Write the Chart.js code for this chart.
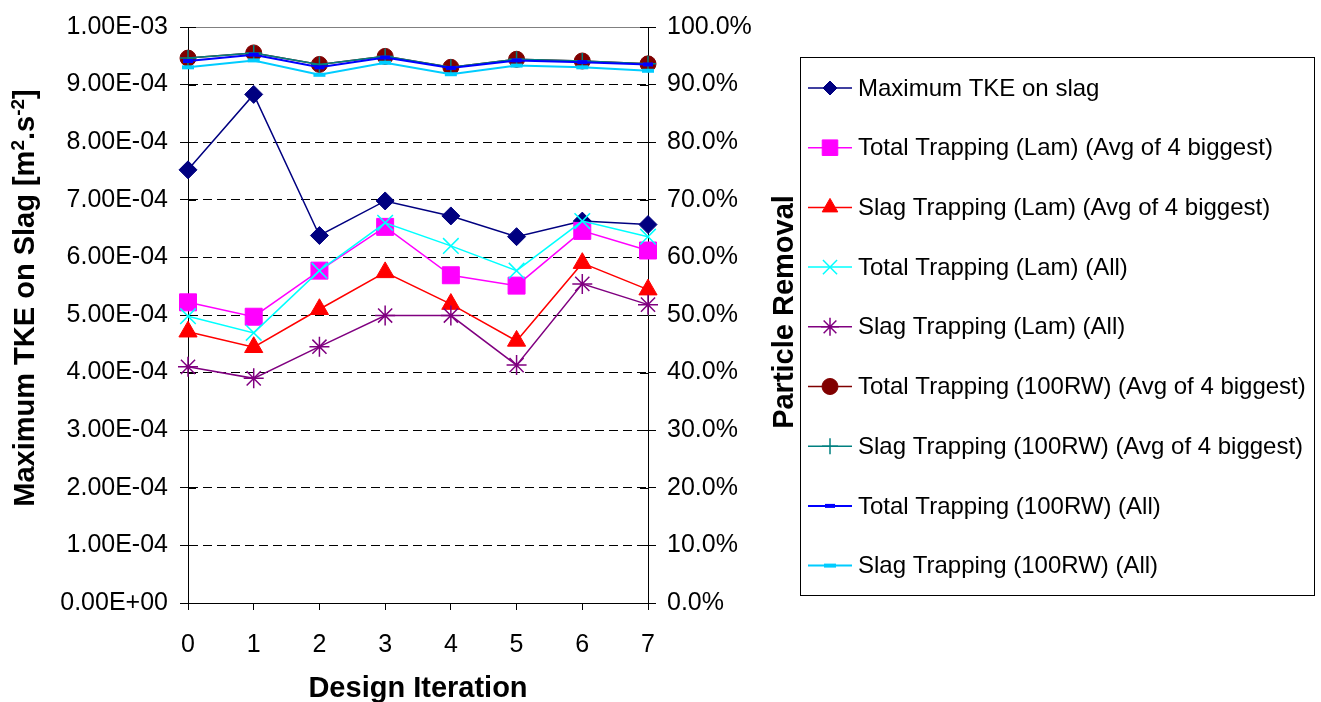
<!DOCTYPE html>
<html>
<head>
<meta charset="utf-8">
<script src="https://cdn.jsdelivr.net/npm/chart.js@4.4.1/dist/chart.umd.min.js"></script>
<style>
  html, body { margin: 0; padding: 0; background: #fff; }
  #wrap { width: 1321px; height: 702px; position: relative; }
</style>
</head>
<body>
<div id="wrap"><canvas id="trapping_chart"></canvas></div>
<script>
const iterations = ['0', '1', '2', '3', '4', '5', '6', '7'];

// left axis, m2.s-2
const maxTkeOnSlag = [7.52e-4, 8.83e-4, 6.38e-4, 6.98e-4, 6.72e-4, 6.36e-4, 6.63e-4, 6.57e-4];

// right axis, percent
const totalLamAvg4 = [52.2, 49.7, 57.7, 65.3, 56.9, 55.1, 64.6, 61.2];
const slagLamAvg4 = [47.1, 44.4, 51.0, 57.4, 51.9, 45.5, 59.0, 54.4];
const totalLamAll = [49.8, 46.9, 57.7, 66.0, 62.0, 57.7, 66.3, 63.6];
const slagLamAll = [41.0, 39.0, 44.5, 49.9, 49.9, 41.3, 55.4, 51.8];
const total100Avg4 = [94.6, 95.5, 93.5, 94.9, 93.0, 94.4, 94.1, 93.6];
const slag100Avg4 = [94.6, 95.5, 93.5, 94.9, 93.0, 94.4, 94.1, 93.6];
const total100All = [94.1, 95.2, 93.0, 94.7, 92.9, 94.2, 93.9, 93.5];
const slag100All = [93.0, 94.2, 91.7, 93.8, 91.8, 93.3, 93.0, 92.4];

const FONT = '"Liberation Sans", Arial, sans-serif';

function series(label, data, axis, color, style, radius, legendRadius, extra) {
    return Object.assign({
        label: label,
        data: data,
        yAxisID: axis,
        borderColor: color,
        backgroundColor: color,
        pointBackgroundColor: color,
        pointBorderColor: color,
        pointStyle: style,
        pointRadius: radius,
        pointHoverRadius: radius,
        pointBorderWidth: 1,
        borderWidth: 1.5,
        legendRadius: legendRadius,
        tension: 0,
        fill: false
    }, extra || {});
}

const datasets = [
    series('Maximum TKE on slag', maxTkeOnSlag, 'y', '#000080', 'rectRot', 9, 7),
    series('Total Trapping (Lam) (Avg of 4 biggest)', totalLamAvg4, 'y1', '#FF00FF', 'rect', 12, 11),
    series('Slag Trapping (Lam) (Avg of 4 biggest)', slagLamAvg4, 'y1', '#FF0000', 'triangle', 10.5, 9),
    series('Total Trapping (Lam) (All)', totalLamAll, 'y1', '#00FFFF', 'crossRot', 11, 10, {pointBorderWidth: 1.5}),
    series('Slag Trapping (Lam) (All)', slagLamAll, 'y1', '#800080', 'star', 10, 9, {pointBorderWidth: 1.5}),
    series('Total Trapping (100RW) (Avg of 4 biggest)', total100Avg4, 'y1', '#800000', 'circle', 8, 8),
    series('Slag Trapping (100RW) (Avg of 4 biggest)', slag100Avg4, 'y1', '#008080', 'cross', 8, 8, {pointBorderWidth: 1.5}),
    series('Total Trapping (100RW) (All)', total100All, 'y1', '#0000FF', 'line', 5, 5, {pointBorderWidth: 4, borderWidth: 2}),
    series('Slag Trapping (100RW) (All)', slag100All, 'y1', '#00CCFF', 'line', 6, 6, {pointBorderWidth: 4, borderWidth: 2})
];
// later series on top, like the original
datasets.forEach((d, i) => { d.order = 20 - i; });

function sciLabel(v) {
    const parts = Number(v).toExponential(2).split('e');
    const sign = parts[1][0] === '-' ? '-' : '+';
    const digits = parts[1].replace(/^[+-]/, '').padStart(2, '0');
    return parts[0] + 'E' + sign + digits;
}

// gray top border, inner half of the tick marks, legend box and the two y titles
const excelLook = {
    id: 'excelLook',
    beforeDatasetsDraw(chart) {
        const ctx = chart.ctx;
        const area = chart.chartArea;
        const ys = chart.scales.y;
        ctx.save();
        ctx.lineWidth = 1;
        ctx.strokeStyle = '#808080';
        ctx.beginPath();
        ctx.moveTo(area.left, Math.round(area.top) + 0.5);
        ctx.lineTo(area.right, Math.round(area.top) + 0.5);
        ctx.stroke();
        ctx.strokeStyle = '#000';
        ys.ticks.forEach((t, i) => {
            const py = Math.round(ys.getPixelForTick(i)) + 0.5;
            ctx.beginPath();
            ctx.moveTo(area.left, py); ctx.lineTo(area.left + 8, py);
            ctx.moveTo(area.right - 8, py); ctx.lineTo(area.right, py);
            ctx.stroke();
        });
        ctx.restore();
    },
    afterDraw(chart) {
        const ctx = chart.ctx;
        ctx.save();

        // legend
        ctx.strokeStyle = '#000';
        ctx.lineWidth = 1;
        ctx.strokeRect(800.5, 57.5, 514, 538);
        ctx.font = '24px ' + FONT;
        ctx.textBaseline = 'middle';
        ctx.textAlign = 'left';
        chart.data.datasets.forEach((ds, i) => {
            const y = 88 + i * 59.7;
            ctx.strokeStyle = ds.borderColor;
            ctx.lineWidth = ds.borderWidth;
            ctx.beginPath();
            ctx.moveTo(808, y); ctx.lineTo(852, y);
            ctx.stroke();
            ctx.fillStyle = ds.pointBackgroundColor;
            ctx.strokeStyle = ds.pointBorderColor;
            ctx.lineWidth = ds.pointBorderWidth;
            Chart.helpers.drawPoint(ctx, {
                pointStyle: ds.pointStyle,
                radius: ds.legendRadius,
                rotation: 0,
                borderWidth: ds.pointBorderWidth
            }, 830, y);
            ctx.fillStyle = '#000';
            ctx.fillText(ds.label, 858, y + 1);
        });

        // left title with superscripts
        const parts = [
            ['Maximum TKE on Slag [m', false],
            ['2', true],
            ['.s', false],
            ['-2', true],
            [']', false]
        ];
        const big = 'bold 29px ' + FONT;
        const small = 'bold 19px ' + FONT;
        let total = 0;
        parts.forEach(p => { ctx.font = p[1] ? small : big; total += ctx.measureText(p[0]).width; });
        ctx.translate(34, 298);
        ctx.rotate(-Math.PI / 2);
        ctx.textBaseline = 'alphabetic';
        ctx.fillStyle = '#000';
        let x = -total / 2;
        parts.forEach(p => {
            ctx.font = p[1] ? small : big;
            ctx.fillText(p[0], x, p[1] ? -10 : 0);
            x += ctx.measureText(p[0]).width;
        });
        ctx.setTransform(1, 0, 0, 1, 0, 0);

        // right title
        ctx.translate(793, 312);
        ctx.rotate(-Math.PI / 2);
        ctx.font = big;
        ctx.textAlign = 'center';
        ctx.fillText('Particle Removal', 0, 0);
        ctx.restore();
    }
};

const trapping_chart = document.getElementById('trapping_chart');

new Chart(trapping_chart, {
    type: 'line',
    data: {
        labels: iterations,
        datasets: datasets
    },
    options: {
        responsive: true,
        maintainAspectRatio: false,
        animation: false,
        events: [],
        layout: {
            padding: {top: 23, right: 500, bottom: 0, left: 0}
        },
        plugins: {
            legend: {display: false},
            tooltip: {enabled: false}
        },
        scales: {
            x: {
                offset: false,
                afterFit: s => { s.height = 99; },
                grid: {drawOnChartArea: false, drawTicks: true, tickLength: 7, color: '#000'},
                border: {color: '#000', width: 1},
                ticks: {color: '#000', padding: 20, font: {family: FONT, size: 25}},
                title: {
                    display: true,
                    text: 'Design Iteration',
                    color: '#000',
                    padding: {top: 0, bottom: -4},
                    font: {family: FONT, size: 29, weight: 'bold'}
                }
            },
            y: {
                position: 'left',
                min: 0,
                max: 0.001,
                afterFit: s => { s.width = 188; },
                grid: {
                    color: c => (c.tick && c.tick.value > 0.00095) ? 'rgba(0,0,0,0)' : '#000',
                    tickColor: '#000',
                    tickLength: 8,
                    lineWidth: 1
                },
                border: {color: '#000', width: 1, dash: [9, 5]},
                ticks: {
                    stepSize: 0.0001,
                    color: '#000',
                    padding: 12,
                    font: {family: FONT, size: 25},
                    callback: v => sciLabel(v)
                }
            },
            y1: {
                position: 'right',
                min: 0,
                max: 100,
                afterFit: s => { s.width = 173; },
                grid: {drawOnChartArea: false, tickColor: '#000', tickLength: 8},
                border: {color: '#000', width: 1},
                ticks: {
                    stepSize: 10,
                    color: '#000',
                    padding: 11,
                    font: {family: FONT, size: 25},
                    callback: v => v.toFixed(1) + '%'
                }
            }
        }
    },
    plugins: [excelLook]
});
</script>
</body>
</html>
